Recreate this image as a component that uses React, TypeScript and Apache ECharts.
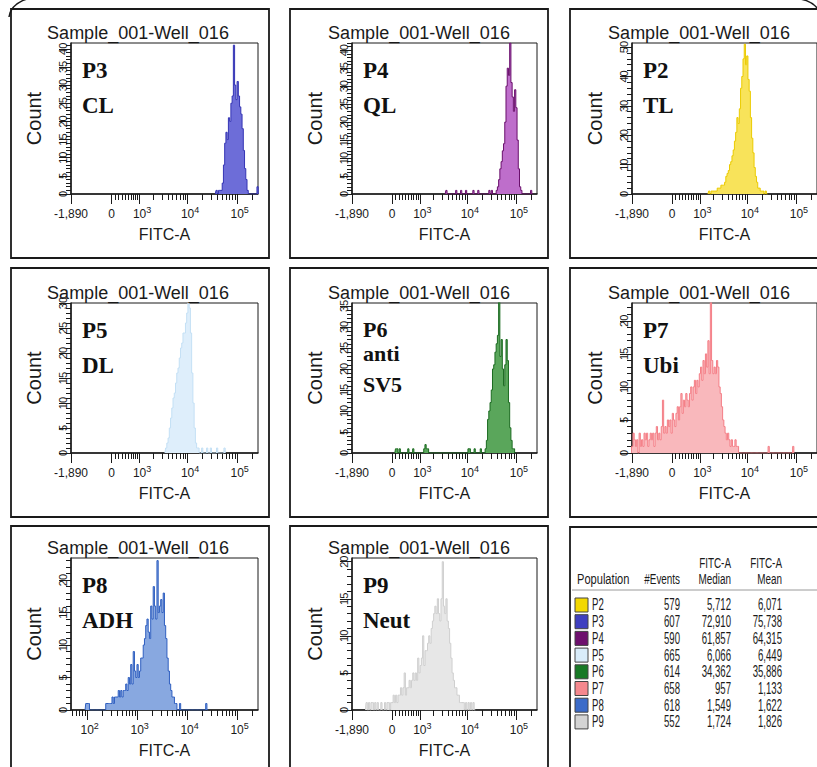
import React, { useEffect, useRef } from 'react';
import * as echarts from 'echarts';

// ---------------- DATA ----------------
const SAMPLE_TITLE = 'Sample_001-Well_016';
const X_NAME = 'FITC-A';
const Y_NAME = 'Count';

// histogram bin width, in display (decade) units of the FITC-A axis
const BIN = 0.025;

// statistics table
const populations = ['P2', 'P3', 'P4', 'P5', 'P6', 'P7', 'P8', 'P9'];
const events = [579, 607, 590, 665, 614, 658, 618, 552];
const medians = [5712, 72910, 61857, 6066, 34362, 957, 1549, 1724];
const means = [6071, 75738, 64315, 6449, 35886, 1133, 1622, 1826];
const swatchColors = ['#F3D800', '#3F3FC0', '#6E106E', '#D9ECFA', '#187A26', '#F5888E', '#3B6BC9', '#D4D4D4'];

// panels (reading order)
const panelPops = ['P3', 'P4', 'P2', 'P5', 'P6', 'P7', 'P8', 'P9'];
const panelLabels = [['P3', 'CL'], ['P4', 'QL'], ['P2', 'TL'], ['P5', 'DL'], ['P6', 'anti', 'SV5'], ['P7', 'Ubi'], ['P8', 'ADH'], ['P9', 'Neut']];
const panelScale = ['logicle', 'logicle', 'logicle', 'logicle', 'logicle', 'logicle', 'log', 'logicle'];
const yAxisMax = [41.6, 42, 51.4, 30, 35.7, 22.7, 23.4, 20.5];
const yAxisStep = [5, 5, 10, 5, 5, 5, 5, 5];
const lineColors = ['#3434B4', '#6A0F6C', '#EBCB00', '#C4E0F5', '#1B6B20', '#F47E86', '#2F5FC0', '#CFCFCF'];
const fillColors = ['#6D6DD8', '#BE6ECB', '#F8E35A', '#DEEEFB', '#5AA65B', '#F9B8BC', '#88A8E0', '#E7E7E7'];

// histogram counts: first bin position (display units) and counts per bin
const histStart = [4.585, 3.575, 3.225, 3.57, 2.55, 1.66, 1.984, 1.952];
const p3Counts = [1, 0, 1, 1, 1, 3, 8, 14, 17, 15, 21, 20, 25, 27, 41, 30, 26, 31, 27, 24, 22, 18, 12, 7, 4, 1, 0, 0, 0, 0, 0, 0, 0, 2];
const p4Counts = [1, 0, 0, 0, 0, 0, 0, 0, 1, 0, 0, 0, 1, 0, 0, 0, 1, 0, 0, 0, 0, 0, 1, 0, 0, 0, 1, 0, 0, 0, 0, 0, 0, 0, 0, 1, 0, 1, 0, 0, 0,
  1, 2, 4, 7, 9, 12, 14, 20, 30, 35, 33, 42, 31, 27, 23, 29, 24, 15, 7, 2, 1, 0, 0, 0, 0, 0, 0, 0, 1, 0];
const p2Counts = [1, 0, 1, 1, 1, 1, 1, 2, 2, 2, 3, 3, 3, 4, 6, 7, 8, 10, 11, 13, 15, 18, 21, 26, 24, 29, 36, 40, 46, 51, 44, 47, 39, 35, 26, 19, 14, 9, 6, 4, 2, 2, 1, 1, 1, 0, 1, 0];
const p5Counts = [1, 2, 3, 5, 7, 9, 11, 12, 14, 16, 17, 19, 21, 22, 24, 24, 26, 28, 30, 29, 24, 16, 10, 5, 2, 1, 1, 0, 0, 1, 0, 0, 0, 1, 0, 0, 1, 0, 0, 0, 0, 1, 0, 0, 0, 0, 0, 1];
const p6Counts = [1, 1, 0, 1, 0, 0, 0, 0, 0, 0, 1, 0, 0, 0, 1, 0, 0, 0, 0, 0, 0, 0, 0, 1, 2, 1, 1,
  0, 0, 0, 0, 0, 0, 0, 0, 0, 0, 0, 0, 0, 0, 0, 0, 0, 0, 0, 0, 0, 0, 0, 0, 0, 0, 0, 0, 0, 0, 0, 0,
  1, 1, 0, 0, 0, 1, 0, 0, 0, 0, 1, 0, 0, 0,
  1, 3, 8, 10, 12, 15, 20, 21, 24, 26, 28, 36, 23, 27, 20, 16, 21, 27, 22, 12, 6, 3, 1, 1, 0];
const p7Counts = [1, 3, 2, 1, 2, 0, 3, 1, 2, 1, 3, 2, 3, 1, 2, 3, 2, 3, 1, 3, 4, 2, 3, 2, 4, 8, 3, 4, 3, 5,
  4, 5, 3, 6, 5, 4, 6, 7, 5, 7, 9, 6, 8, 7, 9, 8, 7, 9, 10, 8, 10, 11, 9, 11, 10, 12, 13, 11, 14, 12,
  15, 13, 17, 12, 23, 14, 12, 13, 12, 14, 13, 10, 9, 7, 5, 4, 3, 2, 3, 2, 1, 2, 1, 1, 2, 1, 1, 0,
  0, 0, 0, 0, 0, 0, 0, 0, 0, 0, 0, 0, 0, 0, 0, 0, 0, 0, 0, 0, 0, 0, 0, 1,
  0, 0, 0, 0, 0, 0, 0, 0, 0, 0, 0, 0, 0, 0, 0, 0, 0, 0, 0, 1];
const p8Counts = [1, 1, 1, 0, 0, 0, 0, 0, 0, 0, 0, 0, 0, 0, 0, 0,
  1, 1, 1, 1, 1, 2, 1, 2, 2, 2, 3, 2, 3, 2, 3, 3, 4, 3, 5, 4, 7, 4, 9, 6, 5, 7, 5, 6, 8, 8,
  10, 11, 13, 14, 12, 11, 16, 14, 19, 16, 14, 23, 15, 16, 17, 15, 18, 13, 11, 8, 6, 4, 3, 2, 2, 1, 1,
  0, 0, 1, 0, 0, 0, 0, 0, 0, 0, 0, 0, 0, 0, 0, 0, 0, 0, 0, 0, 0, 0, 0, 1, 0];
const p9Counts = [1, 0, 1, 0, 1, 1, 0, 1, 0, 1, 0, 0, 1, 0, 0, 1, 0, 1, 1, 0, 1, 1, 2, 1, 2, 1, 2, 2, 3, 2,
  3, 5, 2, 3, 3, 4, 3, 4, 5, 4, 5, 4, 7, 5, 6, 7, 10, 6, 8, 8, 9, 10, 9, 11, 12, 13, 14, 13, 15, 13,
  12, 15, 20, 14, 13, 15, 12, 11, 9, 7, 5, 4, 3, 3, 2, 2, 1, 1, 1, 1, 0, 1, 0, 1, 0, 1, 0, 1, 0];
const histCounts = [p3Counts, p4Counts, p2Counts, p5Counts, p6Counts, p7Counts, p8Counts, p9Counts];

// FITC-A axis scale values
const FULL_SCALE = 262144;
const LOGICLE_MIN = -1890;
const LOG_MIN = 47.5;
const logicleMajor = [-1890, 0, 1000, 10000, 100000];
const logicleMinor = [100, 200, 300, 400, 500, 600, 700, 800, 900, 2000, 3000, 4000, 5000, 6000, 7000, 8000, 9000,
  20000, 30000, 40000, 50000, 60000, 70000, 80000, 90000, 200000];
const logMajor = [100, 1000, 10000, 100000];
const logMinor = [50, 60, 70, 80, 90, 200, 300, 400, 500, 600, 700, 800, 900, 2000, 3000, 4000, 5000, 6000, 7000, 8000, 9000,
  20000, 30000, 40000, 50000, 60000, 70000, 80000, 90000, 200000];

// ---------------- LAYOUT ----------------
const panelCell = [[0, 0], [1, 0], [2, 0], [0, 1], [1, 1], [2, 1], [0, 2], [1, 2]];
const colPlotLeft = [71, 352, 632];
const colPlotWidth = [187, 185, 186];
const rowPlotTop = [43, 303, 558];
const rowPlotHeight = [151, 150, 152];
const colBoxLeft = [11, 290, 570];
const BOX_W = 258;
const rowBoxTop = [9, 268, 526];
const rowBoxHeight = [249, 249, 262];

const FONT = '"Liberation Sans", Arial, Helvetica, sans-serif';
const SERIF = '"Liberation Serif", "Times New Roman", serif';
const INK = '#1a1a1a';

const W_LOGICLE = 590;
const logicle = (v: number) => Math.asinh(v / W_LOGICLE) / Math.LN10 + Math.log10(W_LOGICLE / 2);

function tickLabel(v: number): string {
  if (v < 0) return '-' + Math.abs(v).toLocaleString('en-US');
  if (v === 0) return '0';
  const e = Math.round(Math.log10(v));
  return '{pad| }10{sup|' + e + '}';
}

function toPoints(start: number, counts: number[]) {
  const pts: number[][] = [[start - BIN, 0]];
  counts.forEach((c, i) => pts.push([start + i * BIN, c]));
  pts.push([start + counts.length * BIN, 0]);
  return pts;
}

function text(x: number, y: number, t: string, o: any = {}) {
  return {
    type: 'text', x, y, scaleX: o.scaleX ?? 1, silent: true, z: 20,
    style: {
      text: t, fill: o.color ?? INK, fontSize: o.size ?? 12, fontFamily: o.family ?? FONT,
      fontWeight: o.weight ?? 'normal', align: o.align ?? 'left', textAlign: o.align ?? 'left',
      verticalAlign: 'middle', textVerticalAlign: 'middle',
    },
  };
}

function buildOption() {
  const grid: any[] = [];
  const xAxis: any[] = [];
  const yAxis: any[] = [];
  const series: any[] = [];
  const graphic: any[] = [];

  panelPops.forEach((pop, k) => {
    const [c, r] = panelCell[k];
    const left = colPlotLeft[c];
    const top = rowPlotTop[r];
    const isLog = panelScale[k] === 'log';
    const tf = isLog ? (v: number) => Math.log10(v) : logicle;
    const xMin = isLog ? Math.log10(LOG_MIN) : logicle(LOGICLE_MIN);
    const xMax = tf(FULL_SCALE);
    const majors = isLog ? logMajor : logicleMajor;
    const minors = isLog ? logMinor : logicleMinor;
    const majorD = majors.map(tf);

    grid.push({
      left, top, width: colPlotWidth[c], height: rowPlotHeight[r],
      show: true, borderColor: INK, borderWidth: 1, backgroundColor: '#fff', containLabel: false,
    });

    xAxis.push({
      gridIndex: k, type: 'value', min: xMin, max: xMax, position: 'bottom',
      axisLine: { show: true, onZero: false, lineStyle: { color: INK, width: 1.5 } },
      axisTick: { show: true, customValues: majorD, length: 10, lineStyle: { color: INK, width: 1 } },
      axisLabel: {
        show: true, customValues: majorD, margin: 11, color: INK, fontSize: 12, fontFamily: FONT, lineHeight: 18,
        formatter: (v: number) => {
          const idx = majorD.findIndex((d) => Math.abs(d - v) < 1e-6);
          return idx >= 0 ? tickLabel(majors[idx]) : '';
        },
        rich: {
          pad: { width: 5, fontSize: 9 },
          sup: { fontSize: 9, lineHeight: 6, verticalAlign: 'top', color: INK, fontFamily: FONT },
        },
      },
      splitLine: { show: false },
      name: X_NAME, nameLocation: 'middle', nameGap: 32,
      nameTextStyle: { color: INK, fontSize: 16, fontFamily: FONT },
    });
    xAxis.push({
      gridIndex: k, type: 'value', min: xMin, max: xMax, position: 'bottom',
      axisLine: { show: false, onZero: false },
      axisTick: { show: true, customValues: minors.map(tf), length: 6, lineStyle: { color: INK, width: 1 } },
      axisLabel: { show: false }, splitLine: { show: false },
    });

    const step = yAxisStep[k];
    const yMajor: number[] = [];
    for (let v = 0; v <= yAxisMax[k] + 1e-9; v += step) yMajor.push(v);
    const yMinor: number[] = [];
    for (let v = 0; v <= yAxisMax[k] + 1e-9; v += step / 5) yMinor.push(+v.toFixed(3));

    yAxis.push({
      gridIndex: k, type: 'value', min: 0, max: yAxisMax[k], position: 'left',
      axisLine: { show: true, onZero: false, lineStyle: { color: INK, width: 1.5 } },
      axisTick: { show: true, customValues: yMajor, length: 12, lineStyle: { color: INK, width: 1 } },
      axisLabel: { show: true, customValues: yMajor, rotate: 90, margin: 3, color: INK, fontSize: 11, fontFamily: FONT },
      splitLine: { show: false },
      name: Y_NAME, nameLocation: 'middle', nameGap: 27,
      nameTextStyle: { color: INK, fontSize: 20, fontFamily: FONT },
    });
    yAxis.push({
      gridIndex: k, type: 'value', min: 0, max: yAxisMax[k], position: 'left',
      axisLine: { show: false, onZero: false },
      axisTick: { show: true, customValues: yMinor, length: 5, lineStyle: { color: INK, width: 1 } },
      axisLabel: { show: false }, splitLine: { show: false },
    });

    series.push({
      type: 'line', name: pop, xAxisIndex: 2 * k, yAxisIndex: 2 * k,
      data: toPoints(histStart[k], histCounts[k]),
      step: 'middle', symbol: 'none', showSymbol: false, silent: true, clip: true,
      lineStyle: { color: lineColors[k], width: 1 },
      areaStyle: { color: fillColors[k], opacity: 1 },
    });

    // panel frame
    graphic.push({
      type: 'rect', silent: true, z: 5,
      shape: { x: colBoxLeft[c], y: rowBoxTop[r], width: BOX_W, height: rowBoxHeight[r] },
      style: { fill: 'transparent', stroke: INK, lineWidth: 1.8 },
    });
    // sample title
    graphic.push(text(left + 67, top - 10, SAMPLE_TITLE, { size: 18, align: 'center' }));
    // population label
    const three = panelLabels[k].length === 3;
    const offs = three ? [26, 50, 81] : [27, 62];
    panelLabels[k].forEach((ln, i) => {
      graphic.push(text(left + 11, top + offs[i], ln, { size: three ? 22 : 23, family: SERIF, weight: 'bold', color: '#111' }));
    });
  });

  // statistics table
  const tx = 570, ty = 527;
  graphic.push({
    type: 'rect', silent: true, z: 5,
    shape: { x: tx, y: ty, width: 262, height: 262 },
    style: { fill: '#fff', stroke: INK, lineWidth: 1.8 },
  });
  const colRight = [680, 731, 782];
  const HS = 0.66;
  graphic.push(text(colRight[1], 563, 'FITC-A', { size: 15, align: 'right', scaleX: HS }));
  graphic.push(text(colRight[2], 563, 'FITC-A', { size: 15, align: 'right', scaleX: HS }));
  graphic.push(text(577, 579, 'Population', { size: 15, scaleX: 0.74 }));
  graphic.push(text(colRight[0], 579, '#Events', { size: 15, align: 'right', scaleX: HS }));
  graphic.push(text(colRight[1], 579, 'Median', { size: 15, align: 'right', scaleX: HS }));
  graphic.push(text(colRight[2], 579, 'Mean', { size: 15, align: 'right', scaleX: HS }));
  graphic.push({
    type: 'line', silent: true, z: 6,
    shape: { x1: 572, y1: 590, x2: 817, y2: 590 },
    style: { stroke: '#9a9a9a', lineWidth: 1 },
  });
  const BS = 0.6;
  populations.forEach((p, i) => {
    const y = 605 + i * 16.7;
    graphic.push({
      type: 'rect', silent: true, z: 7,
      shape: { x: 575, y: y - 7, width: 13, height: 14 },
      style: { fill: swatchColors[i], stroke: '#444', lineWidth: 1 },
    });
    graphic.push(text(592, y, p, { size: 16, scaleX: BS }));
    graphic.push(text(colRight[0], y, events[i].toLocaleString('en-US'), { size: 16, align: 'right', scaleX: BS }));
    graphic.push(text(colRight[1], y, medians[i].toLocaleString('en-US'), { size: 16, align: 'right', scaleX: BS }));
    graphic.push(text(colRight[2], y, means[i].toLocaleString('en-US'), { size: 16, align: 'right', scaleX: BS }));
  });

  // outer rounded frame corners
  graphic.push({
    type: 'bezierCurve', silent: true, z: 6,
    shape: { x1: 9, y1: 17, cpx1: 11, cpy1: 4, x2: 27, y2: -1 },
    style: { stroke: INK, lineWidth: 1.5, fill: 'none' },
  });
  graphic.push({
    type: 'bezierCurve', silent: true, z: 6,
    shape: { x1: 800, y1: -1, cpx1: 812, cpy1: 1, x2: 818, y2: 9 },
    style: { stroke: INK, lineWidth: 1.5, fill: 'none' },
  });

  return {
    animation: false,
    backgroundColor: '#ffffff',
    grid, xAxis, yAxis, series, graphic,
  };
}

export default function App() {
  const ref = useRef<HTMLDivElement>(null);
  useEffect(() => {
    if (!ref.current) return;
    const chart = echarts.init(ref.current, undefined, { renderer: 'svg' });
    chart.setOption(buildOption() as any);
    return () => chart.dispose();
  }, []);
  return (
    <div
      ref={ref}
      style={{ position: 'absolute', left: 0, top: 0, width: 817, height: 767, background: '#fff' }}
    />
  );
}
